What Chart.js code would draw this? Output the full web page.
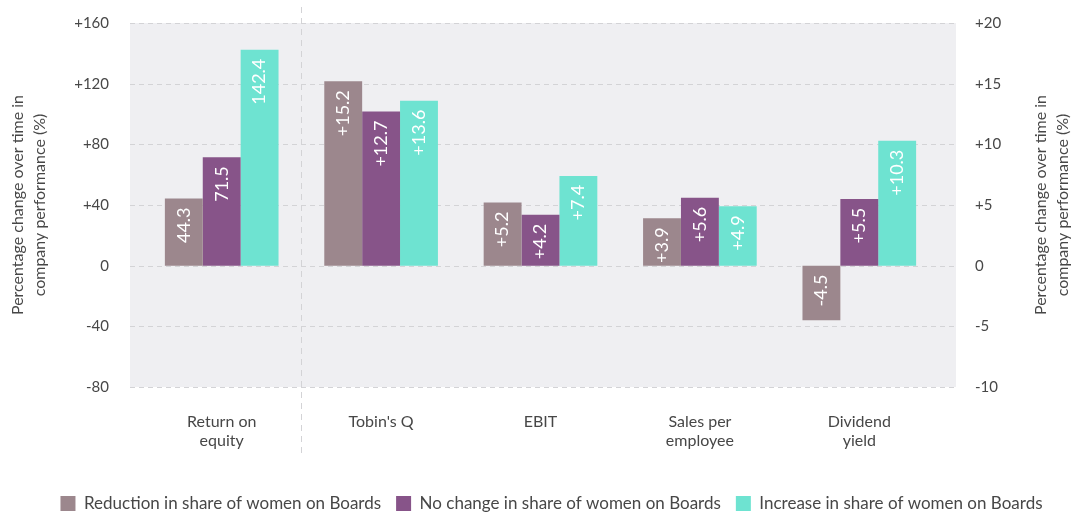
<!DOCTYPE html>
<html>
<head>
<meta charset="utf-8">
<script src="https://cdn.jsdelivr.net/npm/chart.js@4/dist/chart.umd.min.js"></script>
<style>
    body { margin: 0; background: #fff; }
    #box { width: 1083px; height: 515px; }
</style>
</head>
<body>
<div id="box"><canvas id="grafico"></canvas></div>
<script>
// Dados do gráfico
const categorias = [['Return on', 'equity'], "Tobin's Q", 'EBIT', ['Sales per', 'employee'], ['Dividend', 'yield']];
const series = [
    'Reduction in share of women on Boards',
    'No change in share of women on Boards',
    'Increase in share of women on Boards'
];
const cores = ['#9c878d', '#875489', '#6ee3d1'];

// Return on equity - eixo da esquerda (por série)
const valoresRoe = [44.3, 71.5, 142.4];
// Tobin's Q, EBIT, Sales per employee, Dividend yield - eixo da direita
const reducao = [15.2, 5.2, 3.9, -4.5];
const semMudanca = [12.7, 4.2, 5.6, 5.5];
const aumento = [13.6, 7.4, 4.9, 10.3];

const ticksEsq = [-80, -40, 0, 40, 80, 120, 160];
const ticksDir = [-10, -5, 0, 5, 10, 15, 20];
const tituloEixo = ['Percentage change over time in', 'company performance (%)'];

const FONTE = 'Lato, "Open Sans", sans-serif';
const COR_TEXTO = '#474747';

const outros = [reducao, semMudanca, aumento];
const datasets = [];
series.forEach((nome, i) => {
    datasets.push({
        label: nome,
        data: [valoresRoe[i], null, null, null, null],
        backgroundColor: cores[i],
        yAxisID: 'y',
        skipNull: true
    });
});
series.forEach((nome, i) => {
    datasets.push({
        label: nome,
        data: [null, ...outros[i]],
        backgroundColor: cores[i],
        yAxisID: 'y1',
        skipNull: true
    });
});

function formatarTick(v) {
    return v > 0 ? '+' + v : '' + v;
}

// fundo cinza, linhas tracejadas e divisor
const fundoPlugin = {
    id: 'fundo',
    beforeDraw(chart) {
        const { ctx, chartArea, scales } = chart;
        const esq = chartArea.left - 12;
        const dir = chartArea.right + 17;
        ctx.save();
        ctx.fillStyle = '#efeff2';
        ctx.fillRect(esq, chartArea.top, dir - esq, chartArea.bottom - chartArea.top);

        ctx.strokeStyle = '#d3d3d6';
        ctx.lineWidth = 1;
        ctx.setLineDash([5, 4]);
        ticksEsq.forEach(v => {
            const y = Math.round(scales.y.getPixelForValue(v)) + 0.5;
            ctx.beginPath();
            ctx.moveTo(esq, y);
            ctx.lineTo(dir, y);
            ctx.stroke();
        });

        const xDiv = Math.round((scales.x.getPixelForValue(0) + scales.x.getPixelForValue(1)) / 2) + 0.5;
        ctx.setLineDash([6, 5]);
        ctx.beginPath();
        ctx.moveTo(xDiv, chartArea.top - 16);
        ctx.lineTo(xDiv, chartArea.bottom + 68);
        ctx.stroke();
        ctx.restore();
    },
    afterDatasetsDraw(chart) {
        const { ctx } = chart;
        ctx.save();
        ctx.fillStyle = '#ffffff';
        ctx.font = '18px ' + FONTE;
        ctx.textAlign = 'right';
        ctx.textBaseline = 'middle';
        chart.data.datasets.forEach((ds, di) => {
            const meta = chart.getDatasetMeta(di);
            meta.data.forEach((bar, idx) => {
                const v = ds.data[idx];
                if (v === null) return;
                const texto = ds.yAxisID === 'y1' && v > 0 ? '+' + v.toFixed(1) : v.toFixed(1);
                const topo = Math.min(bar.y, bar.base);
                ctx.save();
                ctx.translate(bar.x, topo + 9);
                ctx.rotate(-Math.PI / 2);
                ctx.fillText(texto, 0, 0);
                ctx.restore();
            });
        });
        ctx.restore();
    },
    afterDraw(chart) {
        const { ctx, chartArea } = chart;
        const meio = (chartArea.top + chartArea.bottom) / 2;
        ctx.save();
        ctx.fillStyle = COR_TEXTO;
        ctx.font = '16px ' + FONTE;
        ctx.textAlign = 'center';
        ctx.textBaseline = 'middle';
        [18, 1041].forEach(x0 => {
            tituloEixo.forEach((linha, i) => {
                ctx.save();
                ctx.translate(x0 + i * 22, meio);
                ctx.rotate(-Math.PI / 2);
                ctx.fillText(linha, 0, 0);
                ctx.restore();
            });
        });
        ctx.restore();
    }
};

new Chart(document.getElementById('grafico'), {
    type: 'bar',
    data: { labels: categorias, datasets: datasets },
    options: {
        responsive: true,
        maintainAspectRatio: false,
        animation: false,
        categoryPercentage: 0.713,
        barPercentage: 1,
        layout: { padding: { top: 23, bottom: -7, left: 20, right: 0 } },
        plugins: {
            tooltip: { enabled: false },
            legend: {
                position: 'bottom',
                labels: {
                    filter: item => item.datasetIndex < 3,
                    boxWidth: 15,
                    boxHeight: 15,
                    padding: 15,
                    color: COR_TEXTO,
                    font: { family: FONTE, size: 17 }
                }
            }
        },
        scales: {
            x: {
                grid: { display: false },
                border: { display: false },
                ticks: {
                    color: COR_TEXTO,
                    padding: 17,
                    font: { family: FONTE, size: 16 }
                },
                afterFit: s => { s.height = 93; }
            },
            y: {
                position: 'left',
                min: -80,
                max: 160,
                grid: { display: false, drawTicks: true, tickLength: 33 },
                border: { display: false },
                afterBuildTicks: s => { s.ticks = ticksEsq.map(v => ({ value: v })); },
                ticks: {
                    color: COR_TEXTO,
                    padding: 0,
                    callback: formatarTick,
                    font: { family: FONTE, size: 15 }
                },
                afterFit: s => { s.width = 122; }
            },
            y1: {
                position: 'right',
                min: -10,
                max: 20,
                grid: { display: false, drawTicks: true, tickLength: 36 },
                border: { display: false },
                afterBuildTicks: s => { s.ticks = ticksDir.map(v => ({ value: v })); },
                ticks: {
                    color: COR_TEXTO,
                    padding: 0,
                    callback: formatarTick,
                    font: { family: FONTE, size: 15 }
                },
                afterFit: s => { s.width = 144; }
            }
        }
    },
    plugins: [fundoPlugin]
});
</script>
</body>
</html>
